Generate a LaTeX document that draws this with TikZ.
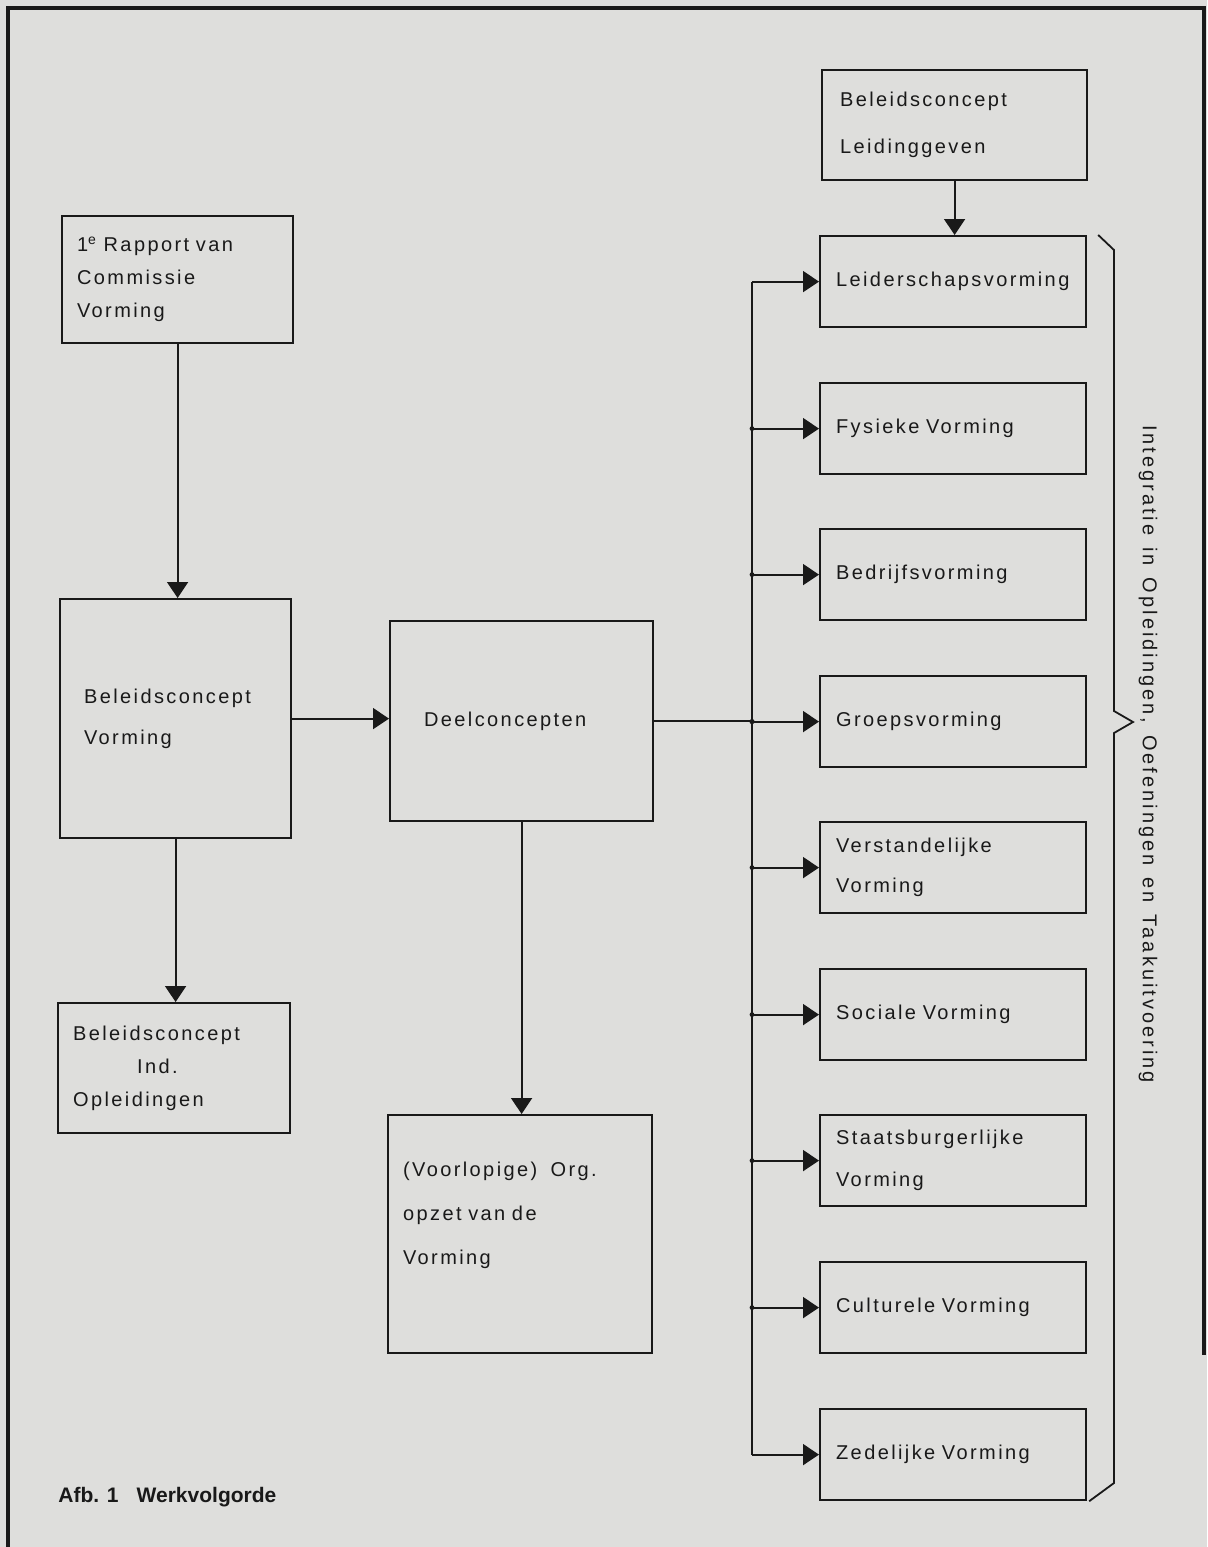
\documentclass[tikz,border=0pt]{standalone}
\usepackage{fontspec}
\usetikzlibrary{arrows.meta}

\newfontfamily\letters[LetterSpace=12,WordSpace=1.4]{Liberation Sans}
\newfontfamily\zijletters[LetterSpace=15,WordSpace=1.4]{Liberation Sans}
\newfontfamily\bijschriftfont{Liberation Sans}
\definecolor{papier}{RGB}{222,222,220}
\definecolor{inkt}{RGB}{25,25,25}
\newcommand{\omlaag}[1]{\rule[-#1]{0pt}{#1}}

\begin{document}
\begin{tikzpicture}[x=0.5pt, y=-0.5pt,
    blok/.style={draw=inkt, line width=1.1pt, anchor=north west, align=left,
                 inner ysep=0pt, inner xsep=7.5pt},
    vorming/.style={blok, regels=20pt, inner xsep=8pt, text width=117pt,
                    minimum height=45.5pt},
    regels/.style={font=\letters\fontsize{10pt}{#1}\selectfont, text=inkt},
    lijn/.style={draw=inkt, line width=0.9pt},
    pijl/.style={lijn, -{Triangle[length=8pt,width=10.5pt]}},
    kader/.style={draw=inkt, line width=1.6pt}]

    % Page size and paper
    \useasboundingbox (0,0) rectangle (1207,1547);
    \fill[papier] (0,0) rectangle (1207,1547);

    % Positions
    \def\busX{752}
    \def\klemX{1114}

    % =========================================================================
    % Outer frame
    % =========================================================================
    \draw[kader] (8,1547) -- (8,8) -- (1204,8) -- (1204,1355);

    % =========================================================================
    % Left column: reports and policy concepts
    % =========================================================================
    \node[blok, regels=16.5pt, text width=100.5pt, minimum height=63.5pt] (rap) at (61,215)
        {1\textsuperscript{e} Rapport van\\Commissie\\Vorming};

    \node[blok, regels=20.5pt, inner xsep=12pt, text width=91.5pt, minimum height=119.5pt] (bcv) at (59,598)
        {Beleidsconcept\\Vorming};

    \node[blok, regels=20pt, inner xsep=17pt, text width=97.5pt, minimum height=100pt] (dc) at (389,620)
        {Deelconcepten};

    \node[blok, regels=16.5pt, text width=101pt, minimum height=65pt] (bio) at (57,1002)
        {Beleidsconcept\\\hspace*{32pt}Ind.\\Opleidingen};

    \node[blok, regels=22pt, text width=117pt, minimum height=119pt] (org) at (387,1114)
        {(Voorlopige)\ \ Org.\\opzet van de\\Vorming\omlaag{21pt}};

    % Connectors
    \draw[pijl] (rap.south) -- (rap.south |- bcv.north);
    \draw[pijl] (bcv.east) -- (bcv.east -| dc.west);
    \draw[pijl] (bcv.south) -- (bcv.south |- bio.north);
    \draw[pijl] (dc.south) -- (dc.south |- org.north);

    % =========================================================================
    % Right column: the separate kinds of forming
    % =========================================================================
    \node[blok, regels=23.5pt, inner xsep=9pt, text width=114.5pt, minimum height=55pt] (bl) at (821,69)
        {Beleidsconcept\\Leidinggeven};

    \node[vorming] (lv) at (819,235) {Leiderschapsvorming};
    \node[vorming] (fv) at (819,382) {Fysieke Vorming};
    \node[vorming] (bv) at (819,528) {Bedrijfsvorming};
    \node[vorming] (gv) at (819,675) {Groepsvorming};
    \node[vorming] (vv) at (819,821) {Verstandelijke\\Vorming};
    \node[vorming] (sv) at (819,968) {Sociale Vorming};
    \node[vorming, regels=21pt] (sb) at (819,1114) {Staatsburgerlijke\\Vorming};
    \node[vorming] (cv) at (819,1261) {Culturele Vorming};
    \node[vorming] (zv) at (819,1408) {Zedelijke Vorming};

    \draw[pijl] (bl.south) -- (bl.south |- lv.north);

    % Distribution line
    \coordinate (bus) at (\busX,0);
    \draw[lijn] (dc.east) -- (dc.east -| bus);
    \draw[lijn] (lv.west -| bus) -- (zv.west -| bus);

    \draw[pijl] (lv.west -| bus) -- (lv.west);
    \draw[pijl] (fv.west -| bus) -- (fv.west);
    \draw[pijl] (bv.west -| bus) -- (bv.west);
    \draw[pijl] (gv.west -| bus) -- (gv.west);
    \draw[pijl] (vv.west -| bus) -- (vv.west);
    \draw[pijl] (sv.west -| bus) -- (sv.west);
    \draw[pijl] (sb.west -| bus) -- (sb.west);
    \draw[pijl] (cv.west -| bus) -- (cv.west);
    \draw[pijl] (zv.west -| bus) -- (zv.west);

    % Junction dots
    \fill[inkt] (fv.west -| bus) circle (1.2pt);
    \fill[inkt] (bv.west -| bus) circle (1.2pt);
    \fill[inkt] (gv.west -| bus) circle (1.3pt);
    \fill[inkt] (vv.west -| bus) circle (1.2pt);
    \fill[inkt] (sv.west -| bus) circle (1.2pt);
    \fill[inkt] (sb.west -| bus) circle (1.2pt);
    \fill[inkt] (cv.west -| bus) circle (1.2pt);

    % =========================================================================
    % Bracket with integration label
    % =========================================================================
    \draw[lijn] ([xshift=5.5pt]lv.north east) -- (\klemX,250) -- (\klemX,711)
        -- (1133,722) -- (\klemX,733) -- (\klemX,1483) -- ([xshift=1pt]zv.south east);

    \node[rotate=-90, font=\zijletters\fontsize{10pt}{12pt}\selectfont, text=inkt] (integratie) at (1148,754)
        {Integratie in Opleidingen, Oefeningen en Taakuitvoering};

    % =========================================================================
    % Caption
    % =========================================================================
    \node[anchor=base west, inner sep=0pt, text=inkt,
          font=\bijschriftfont\bfseries\fontsize{10.5pt}{12pt}\selectfont] (bijschrift) at (58,1502)
        {Afb. 1\hspace{9pt}Werkvolgorde};

\end{tikzpicture}
\end{document}
